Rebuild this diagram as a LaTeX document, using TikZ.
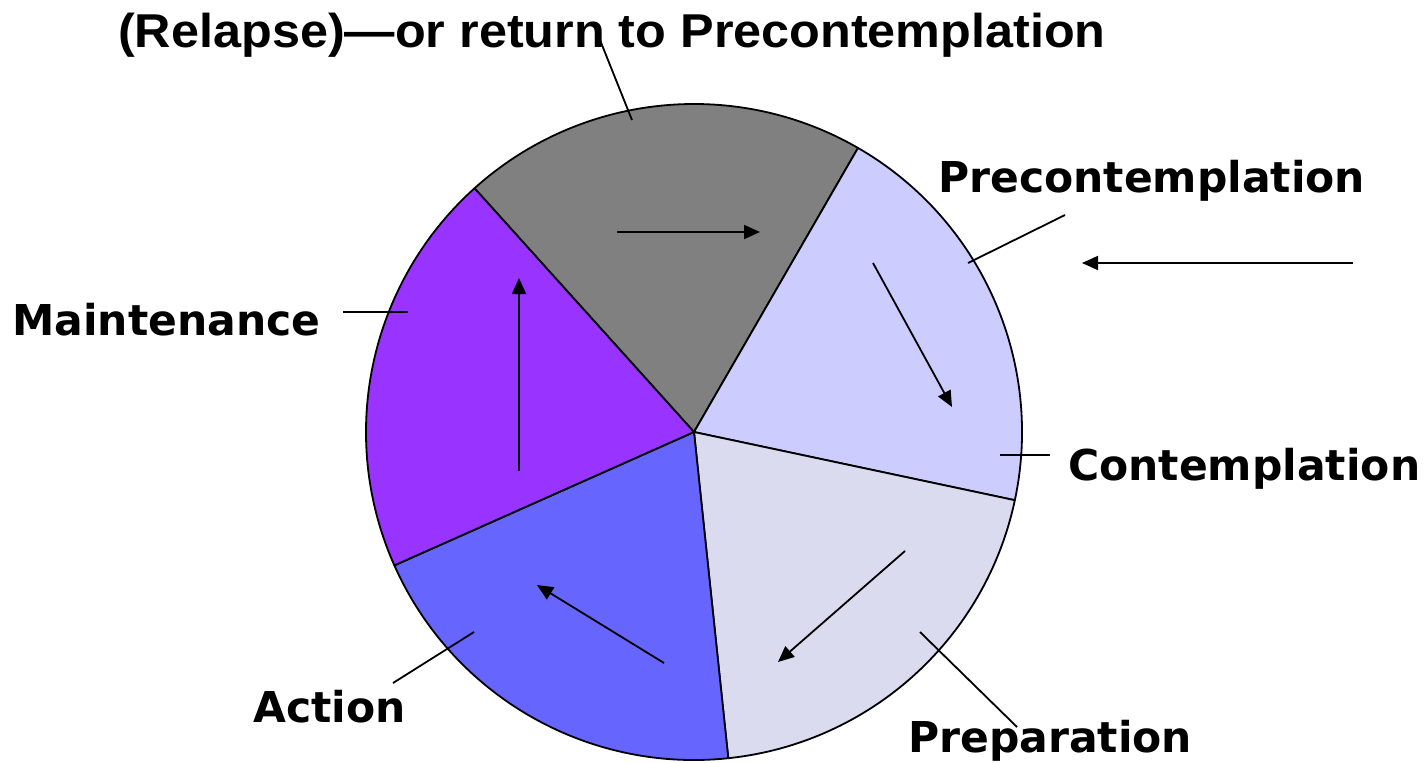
\documentclass[tikz,border=0pt]{standalone}
\usepackage{fontspec}
\setmainfont{DejaVu Sans}
\newfontfamily\headfont{Liberation Sans}[BoldFont={Liberation Sans Bold}, FakeStretch=1.06]
\usetikzlibrary{arrows.meta}
\definecolor{relgray}{HTML}{808080}
\definecolor{precol}{HTML}{CCCCFF}
\definecolor{prepcol}{HTML}{DBDBEF}
\definecolor{actcol}{HTML}{6666FF}
\definecolor{maintcol}{HTML}{9933FF}
\tikzstyle{slice} = [draw, line width=1.8pt, line join=round]
\tikzstyle{stage} = [inner sep=0pt, anchor=base west, font=\fontsize{42.5}{50}\selectfont\bfseries]
\tikzstyle{line} = [draw, line width=1.8pt]
\tikzstyle{flow} = [draw, line width=1.8pt, -{Triangle[length=16pt,width=14pt]}]

\begin{document}
\begin{tikzpicture}[x=1pt, y=-1pt]
	\useasboundingbox (0,0) rectangle (1427,763);
	\coordinate (ctr) at (694,432);
	% five equal slices, clockwise from the top
	\foreach \a/\col in {-132/relgray, -60/precol, 12/prepcol, 84/actcol, 156/maintcol}
		\draw[slice, fill=\col] (ctr) -- ++(\a:328) arc[start angle=\a, end angle=\a+72, radius=328] -- cycle;

	\node [stage, font=\headfont\bfseries\fontsize{47.5}{50}\selectfont] (rel) at (118,47) {(Relapse)—or return to Precontemplation};
	\node [stage] (pre) at (938,192) {Precontemplation};
	\node [stage] (con) at (1068,480) {Contemplation};
	\node [stage] (prep) at (908,752) {Preparation};
	\node [stage] (act) at (253,722) {Action};
	\node [stage] (mnt) at (12,335) {Maintenance};

	% leader lines
	\coordinate (rel-a) at (600,40);   \coordinate (rel-b) at (632,120);
	\coordinate (pre-a) at (1065,215); \coordinate (pre-b) at (968,263);
	\coordinate (con-a) at (1000,455); \coordinate (con-b) at (1050,455);
	\coordinate (prep-a) at (920,632); \coordinate (prep-b) at (1017,727);
	\coordinate (act-a) at (393,683);  \coordinate (act-b) at (474,632);
	\coordinate (mnt-a) at (343,312);  \coordinate (mnt-b) at (408,312);
	\foreach \n in {rel, pre, con, prep, act, mnt}
		\path [line] (\n-a) -- (\n-b);

	% cycle arrows
	\coordinate (in-a) at (1353,263);  \coordinate (in-b) at (1082,263);
	\coordinate (g-a) at (617,232);    \coordinate (g-b) at (760,232);
	\coordinate (p-a) at (873,263);    \coordinate (p-b) at (952,407);
	\coordinate (r-a) at (905,551);    \coordinate (r-b) at (778,662);
	\coordinate (c-a) at (664,663);    \coordinate (c-b) at (537,585);
	\coordinate (m-a) at (519,471);    \coordinate (m-b) at (519,278);
	\foreach \n in {in, g, p, r, c, m}
		\path [flow] (\n-a) -- (\n-b);
\end{tikzpicture}
\end{document}
